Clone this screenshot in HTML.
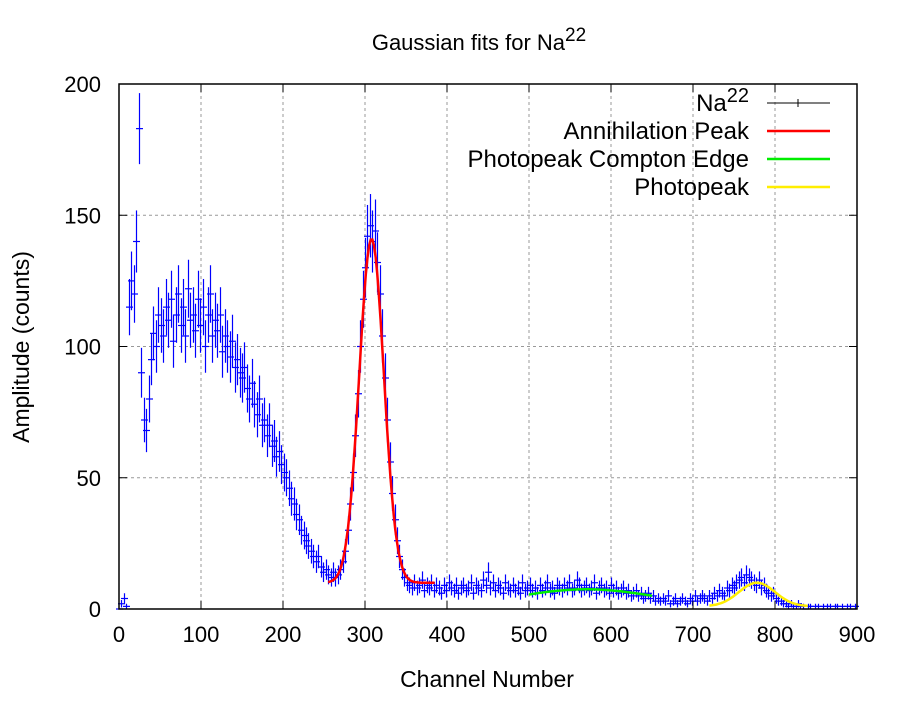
<!DOCTYPE html>
<html><head><meta charset="utf-8"><style>
body{margin:0;background:#fff}
svg text{font-family:"Liberation Sans",sans-serif}
</style></head><body>
<svg id="chart" width="900" height="700" xmlns="http://www.w3.org/2000/svg">
<g id="grid"></g>
<g id="data"></g>
<g id="fits"></g>
<rect x="119" y="84" width="738" height="525" fill="none" stroke="#000" stroke-width="1.5"/>
<g id="ticks"></g>
<text x="479" y="50" font-size="22" text-anchor="middle">Gaussian fits for Na<tspan dy="-9" font-size="19">22</tspan></text>
<text x="487" y="687" font-size="23" text-anchor="middle">Channel Number</text>
<text transform="translate(29,347) rotate(-90)" font-size="23" text-anchor="middle">Amplitude (counts)</text>
<g id="legend"></g>
</svg>
<script>
const channels=[];for(let c=0;c<900;c+=3)channels.push(c);
const counts=[0,2,4,1,115,125,120,140,183,90,
72,68,80,95,105,100,112,108,104,115,
110,118,102,112,120,108,115,104,122,110,
112,106,118,108,115,100,112,120,104,110,
106,112,98,104,100,96,102,92,95,90,
88,92,84,80,86,78,74,80,70,72,
66,70,62,64,58,60,55,52,50,46,
42,40,36,34,30,28,26,24,22,20,
18,20,16,14,15,13,12,14,12,13,
15,18,22,30,40,52,66,82,100,118,
130,142,146,140,144,132,120,104,88,72,
56,44,34,26,20,15,12,10,9,8,
10,8,9,11,7,9,8,10,7,9,
8,6,9,7,10,8,7,9,6,8,
9,7,8,10,6,9,8,7,11,9,
14,8,10,7,9,8,6,10,8,7,
9,7,8,6,10,7,8,9,7,8,
6,9,7,8,10,7,8,6,9,8,
7,9,8,10,7,8,11,9,7,8,
9,7,8,10,6,8,9,7,8,6,
9,7,8,6,7,8,6,7,5,6,
7,5,6,4,5,6,4,5,3,4,
3,4,3,5,2,3,4,2,3,4,
3,2,4,3,5,3,4,5,4,3,
5,4,6,5,7,6,5,8,7,9,
8,10,11,12,10,13,12,11,10,9,
11,8,9,7,6,5,6,4,3,3,
2,2,1,2,1,1,2,1,1,0,
1,1,0,1,1,0,1,0,1,1,
0,1,1,0,1,0,1,1,0,1];
const xTicks=[0,100,200,300,400,500,600,700,800,900];
const yTicks=[0,50,100,150,200];
// fits: amplitude, center, sigma, offset, x range
const fitNames=["Annihilation Peak","Photopeak Compton Edge","Photopeak"];
const fitColors=["#ff0000","#00ee00","#ffee00"];
const fitAmp=[131,7.5,9];
const fitCenter=[308,570,778];
const fitSigma=[15,90,22];
const fitOffset=[10,0,1];
const fitStart=[255,500,720];
const fitEnd=[385,650,840];

const NS="http://www.w3.org/2000/svg";
const X=v=>119+v*738/900, Y=v=>609-v*525/200;
function mk(t,a,p){const e=document.createElementNS(NS,t);for(const k in a)e.setAttribute(k,a[k]);p.appendChild(e);return e;}
const grid=document.getElementById('grid'),ticks=document.getElementById('ticks');
xTicks.forEach(t=>{
 if(t>0&&t<900){const l=mk('line',{x1:X(t),x2:X(t),y1:84,y2:609,stroke:'#999','stroke-dasharray':'3,3'},grid);
 }
 mk('line',{x1:X(t),x2:X(t),y1:609,y2:601,stroke:'#000'},ticks);
 mk('line',{x1:X(t),x2:X(t),y1:84,y2:92,stroke:'#000'},ticks);
 const tx=mk('text',{x:X(t),y:642,'font-size':22,'text-anchor':'middle'},ticks);tx.textContent=t;
 
});
yTicks.forEach(t=>{
 if(t>0&&t<200){const l=mk('line',{x1:119,x2:857,y1:Y(t),y2:Y(t),stroke:'#999','stroke-dasharray':'3,3'},grid);
 }
 mk('line',{x1:119,x2:127,y1:Y(t),y2:Y(t),stroke:'#000'},ticks);
 mk('line',{x1:849,x2:857,y1:Y(t),y2:Y(t),stroke:'#000'},ticks);
 const tx=mk('text',{x:101,y:Y(t)+8,'font-size':22,'text-anchor':'end'},ticks);tx.textContent=t;
 
});
const dg=document.getElementById('data');
channels.forEach((c,i)=>{
 const v=counts[i],e=Math.sqrt(v),x=Math.round(X(c))+0.5;
 const g=mk('g',{},dg);
 
 
 mk('line',{x1:x,x2:x,y1:Y(v+e),y2:Math.min(609,Y(Math.max(0,v-e))),stroke:'#0000ff','stroke-width':1.2},g);
 mk('line',{x1:x-3.5,x2:x+3.5,y1:Y(v),y2:Y(v),stroke:'#0000ff','stroke-width':1.2},g);
});
const fg=document.getElementById('fits');
fitNames.forEach((n,k)=>{
 let d='';
 for(let c=fitStart[k];c<=fitEnd[k];c+=2){
  const v=fitOffset[k]+fitAmp[k]*Math.exp(-Math.pow(c-fitCenter[k],2)/(2*fitSigma[k]*fitSigma[k]));
  d+=(d?'L':'M')+X(c).toFixed(1)+','+Y(v).toFixed(1);
 }
 const p=mk('path',{d:d,fill:'none',stroke:fitColors[k],'stroke-width':2.5},fg);
 
 
});
const lg=document.getElementById('legend');
const e0=mk('g',{},lg);


const t0=mk('text',{x:749,y:111,'font-size':24,'text-anchor':'end'},e0);
t0.innerHTML='Na<tspan dy="-9" font-size="20">22</tspan>';
mk('line',{x1:767,x2:830,y1:103,y2:103,stroke:'#000'},e0);
mk('line',{x1:798,x2:798,y1:99,y2:107,stroke:'#000'},e0);
fitNames.forEach((n,k)=>{
 const y=131+28*k;
 const g=mk('g',{},lg);
 
 
 const t=mk('text',{x:749,y:y+8,'font-size':24,'text-anchor':'end'},g);t.textContent=n;
 mk('line',{x1:767,x2:830,y1:y,y2:y,stroke:fitColors[k],'stroke-width':2.5},g);
});
</script>
</body></html>
